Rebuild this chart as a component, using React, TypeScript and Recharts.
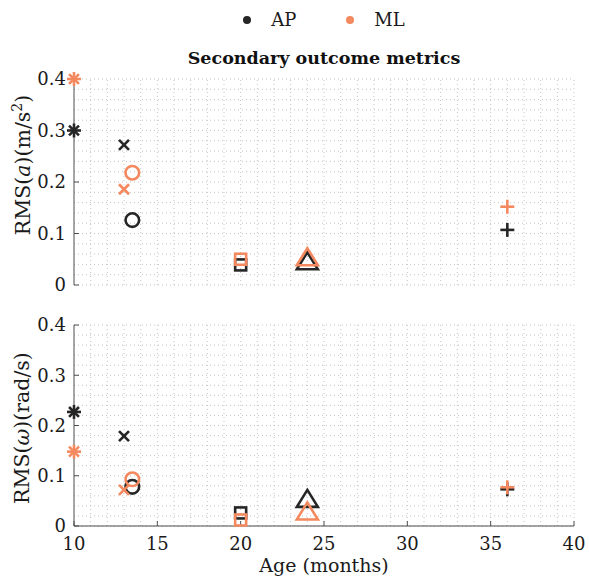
import React from 'react';
import { ScatterChart, Scatter, XAxis, YAxis, ReferenceLine } from 'recharts';

// study ages (months) and the marker each study uses
const ages = [10, 13, 13.5, 20, 24, 36];
const markers = ['*', 'x', 'o', 's', '^', '+'];

// RMS of acceleration (m/s^2)
const apAcc = [0.3, 0.272, 0.126, 0.039, 0.047, 0.107];
const mlAcc = [0.4, 0.186, 0.218, 0.05, 0.055, 0.152];

// RMS of angular velocity (rad/s)
const apGyr = [0.227, 0.179, 0.078, 0.026, 0.055, 0.073];
const mlGyr = [0.148, 0.072, 0.093, 0.012, 0.03, 0.077];

const xTicks = [10, 15, 20, 25, 30, 35, 40];
const yTicks = [0, 0.1, 0.2, 0.3, 0.4];
const xMinor = [11, 12, 13, 14, 15, 16, 17, 18, 19, 20, 21, 22, 23, 24, 25, 26, 27, 28, 29, 30, 31, 32, 33, 34, 35, 36, 37, 38, 39, 40];
const yMinor = [0, 0.02, 0.04, 0.06, 0.08, 0.1, 0.12, 0.14, 0.16, 0.18, 0.2, 0.22, 0.24, 0.26, 0.28, 0.3, 0.32, 0.34, 0.36, 0.38, 0.4];

const AP_COLOR = '#262626';
const ML_COLOR = '#F4895F';
const FONT = '"DejaVu Serif", serif';

const toPoints = (vals: number[]) => vals.map((v, i) => ({ x: ages[i], y: v, m: markers[i] }));

const Marker = (props: any) => {
  const { cx, cy, payload, fill } = props;
  if (cx == null || cy == null) return null;
  const common = { stroke: fill, strokeWidth: 2.6, fill: 'none' };
  switch (payload.m) {
    case '*': {
      const r = 7;
      const d = r * 0.707;
      return (
        <g {...common}>
          <line x1={cx - r} y1={cy} x2={cx + r} y2={cy} />
          <line x1={cx} y1={cy - r} x2={cx} y2={cy + r} />
          <line x1={cx - d} y1={cy - d} x2={cx + d} y2={cy + d} />
          <line x1={cx - d} y1={cy + d} x2={cx + d} y2={cy - d} />
        </g>
      );
    }
    case 'x': {
      const r = 5;
      return (
        <g {...common}>
          <line x1={cx - r} y1={cy - r} x2={cx + r} y2={cy + r} />
          <line x1={cx - r} y1={cy + r} x2={cx + r} y2={cy - r} />
        </g>
      );
    }
    case 'o':
      return <circle cx={cx} cy={cy} r={6.8} {...common} />;
    case 's':
      return <rect x={cx - 5.5} y={cy - 5.5} width={11} height={11} {...common} />;
    case '^': {
      const w = 10.5;
      const h = 8.5;
      return <polygon points={`${cx},${cy - h} ${cx + w},${cy + h} ${cx - w},${cy + h}`} {...common} />;
    }
    case '+': {
      const r = 7;
      return (
        <g {...common}>
          <line x1={cx - r} y1={cy} x2={cx + r} y2={cy} />
          <line x1={cx} y1={cy - r} x2={cx} y2={cy + r} />
        </g>
      );
    }
    default:
      return null;
  }
};

const tickStyle = { fill: '#1a1a1a', fontSize: 18, fontFamily: FONT };
const gridLine = { stroke: '#c4c4c4', strokeDasharray: '1 3', strokeWidth: 1 };

interface PanelProps {
  ap: number[];
  ml: number[];
  showX: boolean;
  top: number;
  height: number;
  margin: { top: number; right: number; bottom: number; left: number };
}

const Panel: React.FC<PanelProps> = ({ ap, ml, showX, top, height, margin }) => (
  <div style={{ position: 'absolute', left: 0, top, height, overflow: 'hidden' }}>
    <ScatterChart width={589} height={height} margin={margin} style={{ display: 'block' }}>
      <XAxis
        type="number"
        dataKey="x"
        domain={[10, 40]}
        ticks={xTicks}
        hide={!showX}
        height={30}
        tickSize={-5}
        tickMargin={16}
        axisLine={{ stroke: '#4d4d4d' }}
        tickLine={{ stroke: '#4d4d4d' }}
        tick={tickStyle}
      />
      <YAxis
        type="number"
        dataKey="y"
        domain={[0, 0.4]}
        ticks={yTicks}
        width={60}
        tickSize={-5}
        tickMargin={13}
        axisLine={{ stroke: '#4d4d4d' }}
        tickLine={{ stroke: '#4d4d4d' }}
        tick={tickStyle}
      />
      {xMinor.map((v) => (
        <ReferenceLine key={'x' + v} x={v} {...gridLine} />
      ))}
      {yMinor.map((v) => (
        <ReferenceLine key={'y' + v} y={v} {...gridLine} />
      ))}
      <Scatter name="AP" data={toPoints(ap)} fill={AP_COLOR} shape={Marker} isAnimationActive={false} />
      <Scatter name="ML" data={toPoints(ml)} fill={ML_COLOR} shape={Marker} isAnimationActive={false} />
    </ScatterChart>
  </div>
);

const yLabelStyle: React.CSSProperties = {
  position: 'absolute',
  left: 22,
  transform: 'translate(-50%, -50%) rotate(-90deg)',
  whiteSpace: 'nowrap',
  fontFamily: FONT,
  fontSize: 20.5,
  color: '#1a1a1a',
};

export default function App() {
  return (
    <div style={{ position: 'fixed', left: 0, top: 0, width: 589, height: 578, background: '#fff', fontFamily: FONT, overflow: 'hidden' }}>
      {/* legend, centred over the axes */}
      <div style={{ position: 'absolute', top: 9, left: 74, width: 500, display: 'flex', justifyContent: 'center', fontSize: 18, color: '#1a1a1a' }}>
        <div style={{ display: 'flex', alignItems: 'center', marginRight: 50 }}>
          <span style={{ width: 8, height: 8, borderRadius: 4, background: AP_COLOR, display: 'inline-block', marginRight: 20 }} />
          <span>AP</span>
        </div>
        <div style={{ display: 'flex', alignItems: 'center' }}>
          <span style={{ width: 8, height: 8, borderRadius: 4, background: ML_COLOR, display: 'inline-block', marginRight: 20 }} />
          <span>ML</span>
        </div>
      </div>

      <div style={{ position: 'absolute', top: 48, left: 74, width: 500, textAlign: 'center', fontWeight: 'bold', fontSize: 17.5, color: '#111' }}>
        Secondary outcome metrics
      </div>

      <Panel ap={apAcc} ml={mlAcc} showX={false} top={0} height={300} margin={{ top: 79, right: 15, bottom: 15, left: 14 }} />
      <Panel ap={apGyr} ml={mlGyr} showX top={300} height={278} margin={{ top: 25, right: 15, bottom: 22, left: 14 }} />

      <div style={{ ...yLabelStyle, top: 165 }}>
        RMS(<i>a</i>)(m/s<sup style={{ fontSize: 14 }}>2</sup>)
      </div>
      <div style={{ ...yLabelStyle, top: 428 }}>
        RMS(<i>ω</i>)(rad/s)
      </div>

      <div style={{ position: 'absolute', top: 554, left: 74, width: 500, textAlign: 'center', fontSize: 19, color: '#1a1a1a' }}>
        Age (months)
      </div>
    </div>
  );
}
